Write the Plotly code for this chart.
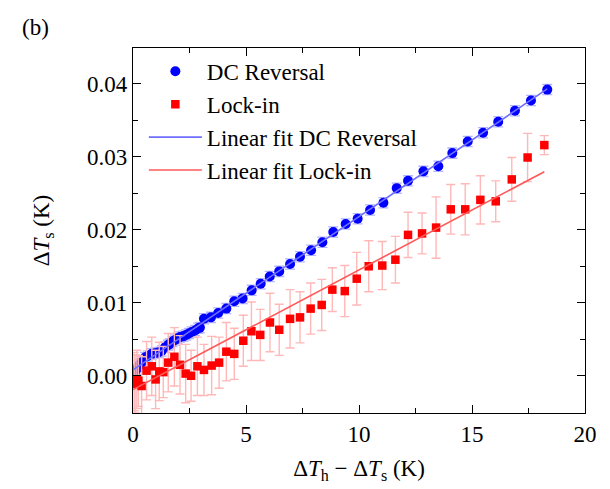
import numpy as np
import plotly.graph_objects as go

# ---------------- data ----------------
dc_x = [0.03, 0.09, 0.16, 0.24, 0.31, 0.40, 0.53, 0.66, 0.83, 0.98, 1.12, 1.27, 1.42, 1.55,
        1.64, 1.75, 1.86, 1.97, 2.08, 2.22, 2.35, 2.47, 2.60, 2.75, 2.89, 2.96, 3.14, 3.45,
        3.77, 4.13, 4.48, 4.85, 5.25, 5.65, 6.05, 6.47, 6.95, 7.39, 7.88, 8.38, 8.86, 9.41,
        9.94, 10.49, 11.08, 11.67, 12.17, 12.85, 13.51, 14.13, 14.81, 15.49, 16.16, 16.90,
        17.61, 18.33]
dc_y = [0.0003, 0.0005, 0.0009, 0.0013, 0.0016, 0.0019, 0.0025, 0.0027, 0.0030, 0.0031,
        0.0032, 0.0034, 0.0039, 0.0042, 0.0044, 0.0047, 0.0049, 0.0051, 0.0053, 0.0054,
        0.0056, 0.0058, 0.0060, 0.0062, 0.0065, 0.0066, 0.0078, 0.0080, 0.0086, 0.0092,
        0.0102, 0.0106, 0.0117, 0.0126, 0.0136, 0.0143, 0.0153, 0.0163, 0.0172, 0.0183,
        0.0197, 0.0208, 0.0215, 0.0227, 0.0237, 0.0257, 0.0267, 0.0280, 0.0287, 0.0305,
        0.0321, 0.0333, 0.0348, 0.0363, 0.0377, 0.0392]
dc_err = [0.0007] * len(dc_x)

li_x = [0.05, 0.09, 0.17, 0.24, 0.38, 0.60, 0.83, 1.00, 1.16, 1.34, 1.56, 1.83, 2.08, 2.33,
        2.57, 2.85, 3.14, 3.48, 3.81, 4.13, 4.48, 4.88, 5.24, 5.63, 6.06, 6.47, 6.95, 7.39,
        7.86, 8.35, 8.82, 9.37, 9.90, 10.43, 11.03, 11.61, 12.17, 12.79, 13.41, 14.06, 14.70,
        15.37, 16.05, 16.76, 17.46, 18.20]
li_y = [-0.0008, -0.0011, -0.0005, -0.0007, -0.0014, 0.0007, 0.0013, -0.0005, 0.0006, 0.0005,
        0.0018, 0.0026, 0.0015, 0.0003, 0.0000, 0.0013, 0.0008, 0.0014, 0.0018, 0.0033,
        0.0030, 0.0048, 0.0061, 0.0056, 0.0073, 0.0063, 0.0078, 0.0080, 0.0092, 0.0097,
        0.0118, 0.0116, 0.0133, 0.0150, 0.0151, 0.0159, 0.0193, 0.0195, 0.0203, 0.0228,
        0.0228, 0.0241, 0.0239, 0.0269, 0.0299, 0.0316]
li_err = [0.0040, 0.0040, 0.0040, 0.0035, 0.0040, 0.0040, 0.0040, 0.0040, 0.0040, 0.0035,
          0.0040, 0.0040, 0.0040, 0.0040, 0.0035, 0.0040, 0.0035, 0.0040, 0.0035, 0.0040,
          0.0035, 0.0035, 0.0040, 0.0035, 0.0040, 0.0035, 0.0040, 0.0035, 0.0035, 0.0035,
          0.0030, 0.0035, 0.0036, 0.0035, 0.0033, 0.0032, 0.0031, 0.0028, 0.0042, 0.0034,
          0.0035, 0.0033, 0.0028, 0.0030, 0.0033, 0.0013]

# linear fit parameters (slope, intercept) and fit ranges
dc_fit = (0.00210, 0.0008)
li_fit = (0.00164, -0.0019)
dc_fit_range = [0.0, 18.33]
li_fit_range = [0.0, 18.20]

x_ticks = [0, 5, 10, 15, 20]
y_ticks = [0.00, 0.01, 0.02, 0.03, 0.04]

# ---------------- figure ----------------
FONT = "Liberation Serif"
FS = 23
fig = go.Figure()

fx = np.array(dc_fit_range)
fig.add_trace(go.Scatter(x=dc_x, y=dc_y, mode="markers", name="DC Reversal",
                         marker=dict(symbol="circle", size=10, color="#0000ff"),
                         error_y=dict(type="data", array=dc_err, visible=True,
                                      color="#b4b4ff", thickness=1.3, width=5)))
fig.add_trace(go.Scatter(x=li_x, y=li_y, mode="markers", name="Lock-in",
                         marker=dict(symbol="square", size=8.5, color="#ff0000"),
                         error_y=dict(type="data", array=li_err, visible=True,
                                      color="#ffb8b8", thickness=1.4, width=4.5)))
fig.add_trace(go.Scatter(x=fx, y=dc_fit[0] * fx + dc_fit[1], mode="lines",
                         name="Linear fit DC Reversal",
                         line=dict(color="#6e6eff", width=1.6)))
fx2 = np.array(li_fit_range)
fig.add_trace(go.Scatter(x=fx2, y=li_fit[0] * fx2 + li_fit[1], mode="lines",
                         name="Linear fit Lock-in",
                         line=dict(color="#ff5a5a", width=1.6)))

axis_common = dict(showgrid=False, zeroline=False, showline=True, linecolor="black",
                   linewidth=1.2, mirror="ticks", ticks="inside", ticklen=8, tickwidth=1,
                   tickcolor="black", tickfont=dict(family=FONT, size=FS, color="black"))

fig.update_xaxes(range=[0, 20], tickvals=x_ticks, ticktext=[str(v) for v in x_ticks],
                 minor=dict(ticks="inside", ticklen=5, dtick=2.5, tickcolor="black"),
                 title=dict(text="Δ<i>T</i><sub>h</sub> − Δ<i>T</i><sub>s</sub> (K)",
                            font=dict(family=FONT, size=FS, color="black"), standoff=14),
                 **axis_common)
fig.update_yaxes(range=[-0.0051, 0.0449], tickvals=y_ticks,
                 ticktext=[f"{v:.2f}" for v in y_ticks],
                 minor=dict(ticks="inside", ticklen=5, dtick=0.005, tick0=0, tickcolor="black"),
                 title=dict(text="Δ<i>T</i><sub>s</sub> (K)",
                            font=dict(family=FONT, size=FS, color="black"), standoff=30),
                 **axis_common)

fig.add_annotation(text="(b)", xref="paper", yref="paper", x=-0.25, y=1.057,
                   xanchor="left", yanchor="middle", showarrow=False,
                   font=dict(family=FONT, size=FS, color="black"))

fig.update_layout(
    width=610, height=489,
    margin=dict(l=133, r=25, t=48, b=76),
    paper_bgcolor="white", plot_bgcolor="white",
    showlegend=True,
    legend=dict(x=0.024, y=0.995, xanchor="left", yanchor="top",
                bgcolor="rgba(0,0,0,0)", borderwidth=0,
                font=dict(family=FONT, size=FS, color="black"),
                itemwidth=53, tracegroupgap=0),
)

fig.write_html("out.html")
